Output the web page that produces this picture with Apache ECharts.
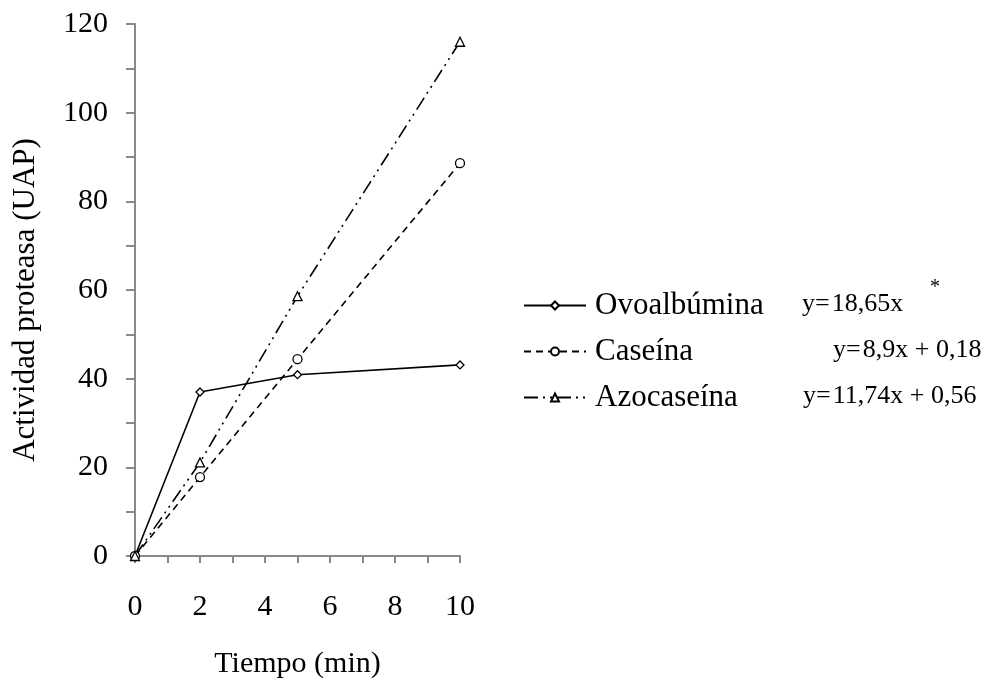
<!DOCTYPE html>
<html>
<head>
<meta charset="utf-8">
<script src="https://cdn.jsdelivr.net/npm/echarts@6/dist/echarts.min.js"></script>
<style>
  html, body { margin: 0; padding: 0; background: #fff; }
  #chart { width: 987px; height: 684px; }
</style>
</head>
<body>
<div id="chart"></div>
<script>
// Time points (min)
const tiempo = [0, 2, 5, 10];
// Protease activity (UAP) per substrate
const ovoalbumina = [0, 37.0, 40.9, 43.1];
const caseina = [0, 17.8, 44.4, 88.6];
const azocaseina = [0, 21.1, 58.6, 116.0];

const seriesNames = ['Ovoalbúmina', 'Caseína', 'Azocaseína'];
const ecuaciones = ['y=\u200a18,65x', 'y=\u200a8,9x + 0,18', 'y=\u200a11,74x + 0,56'];

const FONT = 'Liberation Serif';

function pairs(xs, ys) { return xs.map((x, i) => [x, ys[i]]); }

const chart = echarts.init(document.getElementById('chart'));

const common = {
  type: 'line',
  showSymbol: true,
  itemStyle: { color: '#fff', borderColor: '#000', borderWidth: 1.3 },
  animation: false
};

const axisGray = '#898989';
const eqFont = '26px "Liberation Serif"';

chart.setOption({
  animation: false,
  grid: { left: 135, right: 527, top: 24, bottom: 125 },
  xAxis: {
    type: 'value', min: 0, max: 10, interval: 2,
    name: 'Tiempo (min)', nameLocation: 'middle', nameGap: 93,
    nameTextStyle: { fontFamily: FONT, fontSize: 30, color: '#000' },
    axisLine: { lineStyle: { color: axisGray, width: 2 } },
    axisTick: { show: true, length: 7, lineStyle: { color: axisGray, width: 2 } },
    minorTick: { show: true, splitNumber: 2, length: 7, lineStyle: { color: axisGray, width: 2 } },
    axisLabel: { fontFamily: FONT, fontSize: 30, color: '#000', margin: 36 },
    splitLine: { show: false }
  },
  yAxis: {
    type: 'value', min: 0, max: 120, interval: 20,
    name: 'Actividad proteasa (UAP)', nameLocation: 'middle', nameGap: 94,
    nameTextStyle: { fontFamily: FONT, fontSize: 31, color: '#000', padding: [0, 20, 0, 0] },
    axisLine: { show: true, lineStyle: { color: axisGray, width: 2 } },
    axisTick: { show: true, length: 9, lineStyle: { color: axisGray, width: 2 } },
    minorTick: { show: true, splitNumber: 2, length: 9, lineStyle: { color: axisGray, width: 2 } },
    axisLabel: { fontFamily: FONT, fontSize: 30, color: '#000', margin: 27 },
    splitLine: { show: false }
  },
  legend: {
    orient: 'vertical', left: 518, top: 285,
    itemWidth: 62, itemHeight: 10, itemGap: 15,
    textStyle: { fontFamily: FONT, fontSize: 31, color: '#000', padding: [0, 0, 0, 4], lineHeight: 26 },
    data: seriesNames
  },
  graphic: [
    { type: 'text', left: 802, top: 291, style: { text: ecuaciones[0], font: eqFont, fill: '#000' } },
    { type: 'text', left: 930, top: 278, style: { text: '*', font: '20px "Liberation Serif"', fill: '#000' } },
    { type: 'text', left: 833, top: 337, style: { text: ecuaciones[1], font: eqFont, fill: '#000' } },
    { type: 'text', left: 803, top: 383, style: { text: ecuaciones[2], font: eqFont, fill: '#000' } }
  ],
  series: [
    Object.assign({}, common, {
      name: seriesNames[0], data: pairs(tiempo, ovoalbumina),
      symbol: 'diamond', symbolSize: 8,
      lineStyle: { color: '#000', width: 1.6, type: 'solid' }
    }),
    Object.assign({}, common, {
      name: seriesNames[1], data: pairs(tiempo, caseina),
      symbol: 'circle', symbolSize: 9,
      lineStyle: { color: '#000', width: 1.6, type: [7, 5] }
    }),
    Object.assign({}, common, {
      name: seriesNames[2], data: pairs(tiempo, azocaseina),
      symbol: 'triangle', symbolSize: 9,
      lineStyle: { color: '#000', width: 1.6, type: [14, 5, 2, 5, 2, 5] }
    })
  ]
});
</script>
</body>
</html>
